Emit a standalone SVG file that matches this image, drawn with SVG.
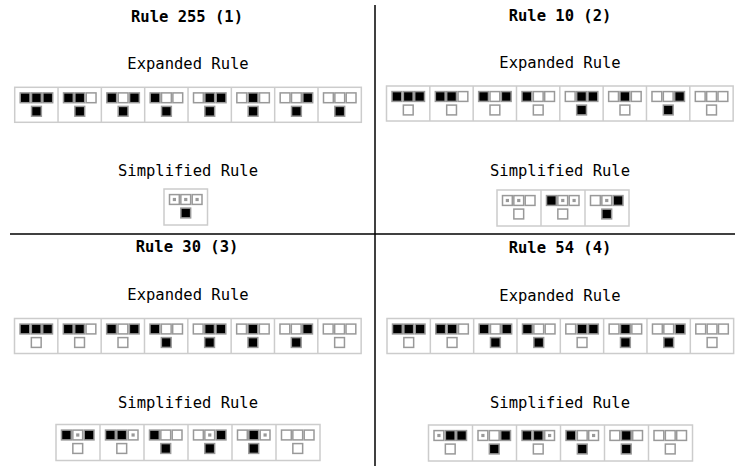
<svg xmlns="http://www.w3.org/2000/svg" width="735" height="466" viewBox="0 0 735 466">
<style>
.t{font-family:"DejaVu Sans Mono","Liberation Mono",monospace;font-size:15.5px;font-weight:bold;text-anchor:middle;fill:#000}
.s{font-family:"DejaVu Sans Mono","Liberation Mono",monospace;font-size:15.5px;text-anchor:middle;fill:#000}
.box{fill:#fff;stroke:#ccc;stroke-width:1.5}
.div{stroke:#ccc;stroke-width:1.5}
.sep{stroke:#000;stroke-width:1.5}
</style>
<defs>
<rect id="b" x="-4.9" y="-4.9" width="9.8" height="9.8" fill="#000" stroke="#999" stroke-width="1.5"/>
<rect id="w" x="-4.9" y="-4.9" width="9.8" height="9.8" fill="#fff" stroke="#999" stroke-width="1.5"/>
<g id="d"><rect x="-4.9" y="-4.9" width="9.8" height="9.8" fill="#fff" stroke="#999" stroke-width="1.5"/><rect x="-1.6" y="-1.6" width="3.2" height="3.2" fill="#999"/></g>
</defs>
<rect width="735" height="466" fill="#fff"/>
<g id="separators">
<line class="sep" x1="375" y1="5" x2="375" y2="466"/>
<line class="sep" x1="10" y1="234" x2="735" y2="234"/>
</g>
<g id="panel1">
<text class="t" x="187" y="22">Rule 255 (1)</text>
<text class="s" x="188" y="69">Expanded Rule</text>
<text class="s" x="188" y="176">Simplified Rule</text>
<g id="p1-exp">
<rect class="box" x="14.7" y="87.3" width="346.64" height="35"/>
<g class="div"><line x1="58.03" y1="87.3" x2="58.03" y2="122.3"/><line x1="101.36" y1="87.3" x2="101.36" y2="122.3"/><line x1="144.69" y1="87.3" x2="144.69" y2="122.3"/><line x1="188.02" y1="87.3" x2="188.02" y2="122.3"/><line x1="231.35" y1="87.3" x2="231.35" y2="122.3"/><line x1="274.68" y1="87.3" x2="274.68" y2="122.3"/><line x1="318.01" y1="87.3" x2="318.01" y2="122.3"/></g>
<g transform="translate(14.7,87.3)"><use href="#b" x="10.4" y="10.5"/><use href="#b" x="21.75" y="10.5"/><use href="#b" x="33.1" y="10.5"/><use href="#b" x="21.75" y="24"/></g>
<g transform="translate(58.03,87.3)"><use href="#b" x="10.4" y="10.5"/><use href="#b" x="21.75" y="10.5"/><use href="#w" x="33.1" y="10.5"/><use href="#b" x="21.75" y="24"/></g>
<g transform="translate(101.36,87.3)"><use href="#b" x="10.4" y="10.5"/><use href="#w" x="21.75" y="10.5"/><use href="#b" x="33.1" y="10.5"/><use href="#b" x="21.75" y="24"/></g>
<g transform="translate(144.69,87.3)"><use href="#b" x="10.4" y="10.5"/><use href="#w" x="21.75" y="10.5"/><use href="#w" x="33.1" y="10.5"/><use href="#b" x="21.75" y="24"/></g>
<g transform="translate(188.02,87.3)"><use href="#w" x="10.4" y="10.5"/><use href="#b" x="21.75" y="10.5"/><use href="#b" x="33.1" y="10.5"/><use href="#b" x="21.75" y="24"/></g>
<g transform="translate(231.35,87.3)"><use href="#w" x="10.4" y="10.5"/><use href="#b" x="21.75" y="10.5"/><use href="#w" x="33.1" y="10.5"/><use href="#b" x="21.75" y="24"/></g>
<g transform="translate(274.68,87.3)"><use href="#w" x="10.4" y="10.5"/><use href="#w" x="21.75" y="10.5"/><use href="#b" x="33.1" y="10.5"/><use href="#b" x="21.75" y="24"/></g>
<g transform="translate(318.01,87.3)"><use href="#w" x="10.4" y="10.5"/><use href="#w" x="21.75" y="10.5"/><use href="#w" x="33.1" y="10.5"/><use href="#b" x="21.75" y="24"/></g>
</g>
<g id="p1-simp">
<rect class="box" x="164" y="189" width="43.5" height="36"/>
<g transform="translate(164,189)"><use href="#d" x="10.4" y="10.5"/><use href="#d" x="21.75" y="10.5"/><use href="#d" x="33.1" y="10.5"/><use href="#b" x="21.75" y="24"/></g>
</g>
</g>
<g id="panel2">
<text class="t" x="560" y="21">Rule 10 (2)</text>
<text class="s" x="560" y="68">Expanded Rule</text>
<text class="s" x="560" y="176">Simplified Rule</text>
<g id="p2-exp">
<rect class="box" x="386.5" y="86" width="346.64" height="35"/>
<g class="div"><line x1="429.83" y1="86" x2="429.83" y2="121"/><line x1="473.16" y1="86" x2="473.16" y2="121"/><line x1="516.49" y1="86" x2="516.49" y2="121"/><line x1="559.82" y1="86" x2="559.82" y2="121"/><line x1="603.15" y1="86" x2="603.15" y2="121"/><line x1="646.48" y1="86" x2="646.48" y2="121"/><line x1="689.81" y1="86" x2="689.81" y2="121"/></g>
<g transform="translate(386.5,86)"><use href="#b" x="10.4" y="10.5"/><use href="#b" x="21.75" y="10.5"/><use href="#b" x="33.1" y="10.5"/><use href="#w" x="21.75" y="24"/></g>
<g transform="translate(429.83,86)"><use href="#b" x="10.4" y="10.5"/><use href="#b" x="21.75" y="10.5"/><use href="#w" x="33.1" y="10.5"/><use href="#w" x="21.75" y="24"/></g>
<g transform="translate(473.16,86)"><use href="#b" x="10.4" y="10.5"/><use href="#w" x="21.75" y="10.5"/><use href="#b" x="33.1" y="10.5"/><use href="#w" x="21.75" y="24"/></g>
<g transform="translate(516.49,86)"><use href="#b" x="10.4" y="10.5"/><use href="#w" x="21.75" y="10.5"/><use href="#w" x="33.1" y="10.5"/><use href="#w" x="21.75" y="24"/></g>
<g transform="translate(559.82,86)"><use href="#w" x="10.4" y="10.5"/><use href="#b" x="21.75" y="10.5"/><use href="#b" x="33.1" y="10.5"/><use href="#b" x="21.75" y="24"/></g>
<g transform="translate(603.15,86)"><use href="#w" x="10.4" y="10.5"/><use href="#b" x="21.75" y="10.5"/><use href="#w" x="33.1" y="10.5"/><use href="#w" x="21.75" y="24"/></g>
<g transform="translate(646.48,86)"><use href="#w" x="10.4" y="10.5"/><use href="#w" x="21.75" y="10.5"/><use href="#b" x="33.1" y="10.5"/><use href="#b" x="21.75" y="24"/></g>
<g transform="translate(689.81,86)"><use href="#w" x="10.4" y="10.5"/><use href="#w" x="21.75" y="10.5"/><use href="#w" x="33.1" y="10.5"/><use href="#w" x="21.75" y="24"/></g>
</g>
<g id="p2-simp">
<rect class="box" x="497" y="190" width="132" height="36"/>
<g class="div"><line x1="541" y1="190" x2="541" y2="226"/><line x1="585" y1="190" x2="585" y2="226"/></g>
<g transform="translate(497,190)"><use href="#d" x="10.4" y="10.5"/><use href="#d" x="21.75" y="10.5"/><use href="#w" x="33.1" y="10.5"/><use href="#w" x="21.75" y="24"/></g>
<g transform="translate(541,190)"><use href="#b" x="10.4" y="10.5"/><use href="#d" x="21.75" y="10.5"/><use href="#d" x="33.1" y="10.5"/><use href="#w" x="21.75" y="24"/></g>
<g transform="translate(585,190)"><use href="#w" x="10.4" y="10.5"/><use href="#d" x="21.75" y="10.5"/><use href="#b" x="33.1" y="10.5"/><use href="#b" x="21.75" y="24"/></g>
</g>
</g>
<g id="panel3">
<text class="t" x="187" y="252">Rule 30 (3)</text>
<text class="s" x="188" y="300">Expanded Rule</text>
<text class="s" x="188" y="408">Simplified Rule</text>
<g id="p3-exp">
<rect class="box" x="14.5" y="318.5" width="346.64" height="35"/>
<g class="div"><line x1="57.83" y1="318.5" x2="57.83" y2="353.5"/><line x1="101.16" y1="318.5" x2="101.16" y2="353.5"/><line x1="144.49" y1="318.5" x2="144.49" y2="353.5"/><line x1="187.82" y1="318.5" x2="187.82" y2="353.5"/><line x1="231.15" y1="318.5" x2="231.15" y2="353.5"/><line x1="274.48" y1="318.5" x2="274.48" y2="353.5"/><line x1="317.81" y1="318.5" x2="317.81" y2="353.5"/></g>
<g transform="translate(14.5,318.5)"><use href="#b" x="10.4" y="10.5"/><use href="#b" x="21.75" y="10.5"/><use href="#b" x="33.1" y="10.5"/><use href="#w" x="21.75" y="24"/></g>
<g transform="translate(57.83,318.5)"><use href="#b" x="10.4" y="10.5"/><use href="#b" x="21.75" y="10.5"/><use href="#w" x="33.1" y="10.5"/><use href="#w" x="21.75" y="24"/></g>
<g transform="translate(101.16,318.5)"><use href="#b" x="10.4" y="10.5"/><use href="#w" x="21.75" y="10.5"/><use href="#b" x="33.1" y="10.5"/><use href="#w" x="21.75" y="24"/></g>
<g transform="translate(144.49,318.5)"><use href="#b" x="10.4" y="10.5"/><use href="#w" x="21.75" y="10.5"/><use href="#w" x="33.1" y="10.5"/><use href="#b" x="21.75" y="24"/></g>
<g transform="translate(187.82,318.5)"><use href="#w" x="10.4" y="10.5"/><use href="#b" x="21.75" y="10.5"/><use href="#b" x="33.1" y="10.5"/><use href="#b" x="21.75" y="24"/></g>
<g transform="translate(231.15,318.5)"><use href="#w" x="10.4" y="10.5"/><use href="#b" x="21.75" y="10.5"/><use href="#w" x="33.1" y="10.5"/><use href="#b" x="21.75" y="24"/></g>
<g transform="translate(274.48,318.5)"><use href="#w" x="10.4" y="10.5"/><use href="#w" x="21.75" y="10.5"/><use href="#b" x="33.1" y="10.5"/><use href="#b" x="21.75" y="24"/></g>
<g transform="translate(317.81,318.5)"><use href="#w" x="10.4" y="10.5"/><use href="#w" x="21.75" y="10.5"/><use href="#w" x="33.1" y="10.5"/><use href="#w" x="21.75" y="24"/></g>
</g>
<g id="p3-simp">
<rect class="box" x="56" y="424.5" width="264" height="36"/>
<g class="div"><line x1="100" y1="424.5" x2="100" y2="460.5"/><line x1="144" y1="424.5" x2="144" y2="460.5"/><line x1="188" y1="424.5" x2="188" y2="460.5"/><line x1="232" y1="424.5" x2="232" y2="460.5"/><line x1="276" y1="424.5" x2="276" y2="460.5"/></g>
<g transform="translate(56,424.5)"><use href="#b" x="10.4" y="10.5"/><use href="#d" x="21.75" y="10.5"/><use href="#b" x="33.1" y="10.5"/><use href="#w" x="21.75" y="24"/></g>
<g transform="translate(100,424.5)"><use href="#b" x="10.4" y="10.5"/><use href="#b" x="21.75" y="10.5"/><use href="#d" x="33.1" y="10.5"/><use href="#w" x="21.75" y="24"/></g>
<g transform="translate(144,424.5)"><use href="#b" x="10.4" y="10.5"/><use href="#w" x="21.75" y="10.5"/><use href="#w" x="33.1" y="10.5"/><use href="#b" x="21.75" y="24"/></g>
<g transform="translate(188,424.5)"><use href="#w" x="10.4" y="10.5"/><use href="#d" x="21.75" y="10.5"/><use href="#b" x="33.1" y="10.5"/><use href="#b" x="21.75" y="24"/></g>
<g transform="translate(232,424.5)"><use href="#w" x="10.4" y="10.5"/><use href="#b" x="21.75" y="10.5"/><use href="#d" x="33.1" y="10.5"/><use href="#b" x="21.75" y="24"/></g>
<g transform="translate(276,424.5)"><use href="#w" x="10.4" y="10.5"/><use href="#w" x="21.75" y="10.5"/><use href="#w" x="33.1" y="10.5"/><use href="#w" x="21.75" y="24"/></g>
</g>
</g>
<g id="panel4">
<text class="t" x="560" y="253">Rule 54 (4)</text>
<text class="s" x="560" y="301">Expanded Rule</text>
<text class="s" x="560" y="408">Simplified Rule</text>
<g id="p4-exp">
<rect class="box" x="387" y="318.5" width="346.64" height="35"/>
<g class="div"><line x1="430.33" y1="318.5" x2="430.33" y2="353.5"/><line x1="473.66" y1="318.5" x2="473.66" y2="353.5"/><line x1="516.99" y1="318.5" x2="516.99" y2="353.5"/><line x1="560.32" y1="318.5" x2="560.32" y2="353.5"/><line x1="603.65" y1="318.5" x2="603.65" y2="353.5"/><line x1="646.98" y1="318.5" x2="646.98" y2="353.5"/><line x1="690.31" y1="318.5" x2="690.31" y2="353.5"/></g>
<g transform="translate(387,318.5)"><use href="#b" x="10.4" y="10.5"/><use href="#b" x="21.75" y="10.5"/><use href="#b" x="33.1" y="10.5"/><use href="#w" x="21.75" y="24"/></g>
<g transform="translate(430.33,318.5)"><use href="#b" x="10.4" y="10.5"/><use href="#b" x="21.75" y="10.5"/><use href="#w" x="33.1" y="10.5"/><use href="#w" x="21.75" y="24"/></g>
<g transform="translate(473.66,318.5)"><use href="#b" x="10.4" y="10.5"/><use href="#w" x="21.75" y="10.5"/><use href="#b" x="33.1" y="10.5"/><use href="#b" x="21.75" y="24"/></g>
<g transform="translate(516.99,318.5)"><use href="#b" x="10.4" y="10.5"/><use href="#w" x="21.75" y="10.5"/><use href="#w" x="33.1" y="10.5"/><use href="#b" x="21.75" y="24"/></g>
<g transform="translate(560.32,318.5)"><use href="#w" x="10.4" y="10.5"/><use href="#b" x="21.75" y="10.5"/><use href="#b" x="33.1" y="10.5"/><use href="#w" x="21.75" y="24"/></g>
<g transform="translate(603.65,318.5)"><use href="#w" x="10.4" y="10.5"/><use href="#b" x="21.75" y="10.5"/><use href="#w" x="33.1" y="10.5"/><use href="#b" x="21.75" y="24"/></g>
<g transform="translate(646.98,318.5)"><use href="#w" x="10.4" y="10.5"/><use href="#w" x="21.75" y="10.5"/><use href="#b" x="33.1" y="10.5"/><use href="#b" x="21.75" y="24"/></g>
<g transform="translate(690.31,318.5)"><use href="#w" x="10.4" y="10.5"/><use href="#w" x="21.75" y="10.5"/><use href="#w" x="33.1" y="10.5"/><use href="#w" x="21.75" y="24"/></g>
</g>
<g id="p4-simp">
<rect class="box" x="428.5" y="425" width="264" height="36"/>
<g class="div"><line x1="472.5" y1="425" x2="472.5" y2="461"/><line x1="516.5" y1="425" x2="516.5" y2="461"/><line x1="560.5" y1="425" x2="560.5" y2="461"/><line x1="604.5" y1="425" x2="604.5" y2="461"/><line x1="648.5" y1="425" x2="648.5" y2="461"/></g>
<g transform="translate(428.5,425)"><use href="#d" x="10.4" y="10.5"/><use href="#b" x="21.75" y="10.5"/><use href="#b" x="33.1" y="10.5"/><use href="#w" x="21.75" y="24"/></g>
<g transform="translate(472.5,425)"><use href="#d" x="10.4" y="10.5"/><use href="#w" x="21.75" y="10.5"/><use href="#b" x="33.1" y="10.5"/><use href="#b" x="21.75" y="24"/></g>
<g transform="translate(516.5,425)"><use href="#b" x="10.4" y="10.5"/><use href="#b" x="21.75" y="10.5"/><use href="#d" x="33.1" y="10.5"/><use href="#w" x="21.75" y="24"/></g>
<g transform="translate(560.5,425)"><use href="#b" x="10.4" y="10.5"/><use href="#w" x="21.75" y="10.5"/><use href="#d" x="33.1" y="10.5"/><use href="#b" x="21.75" y="24"/></g>
<g transform="translate(604.5,425)"><use href="#w" x="10.4" y="10.5"/><use href="#b" x="21.75" y="10.5"/><use href="#w" x="33.1" y="10.5"/><use href="#b" x="21.75" y="24"/></g>
<g transform="translate(648.5,425)"><use href="#w" x="10.4" y="10.5"/><use href="#w" x="21.75" y="10.5"/><use href="#w" x="33.1" y="10.5"/><use href="#w" x="21.75" y="24"/></g>
</g>
</g>
</svg>
